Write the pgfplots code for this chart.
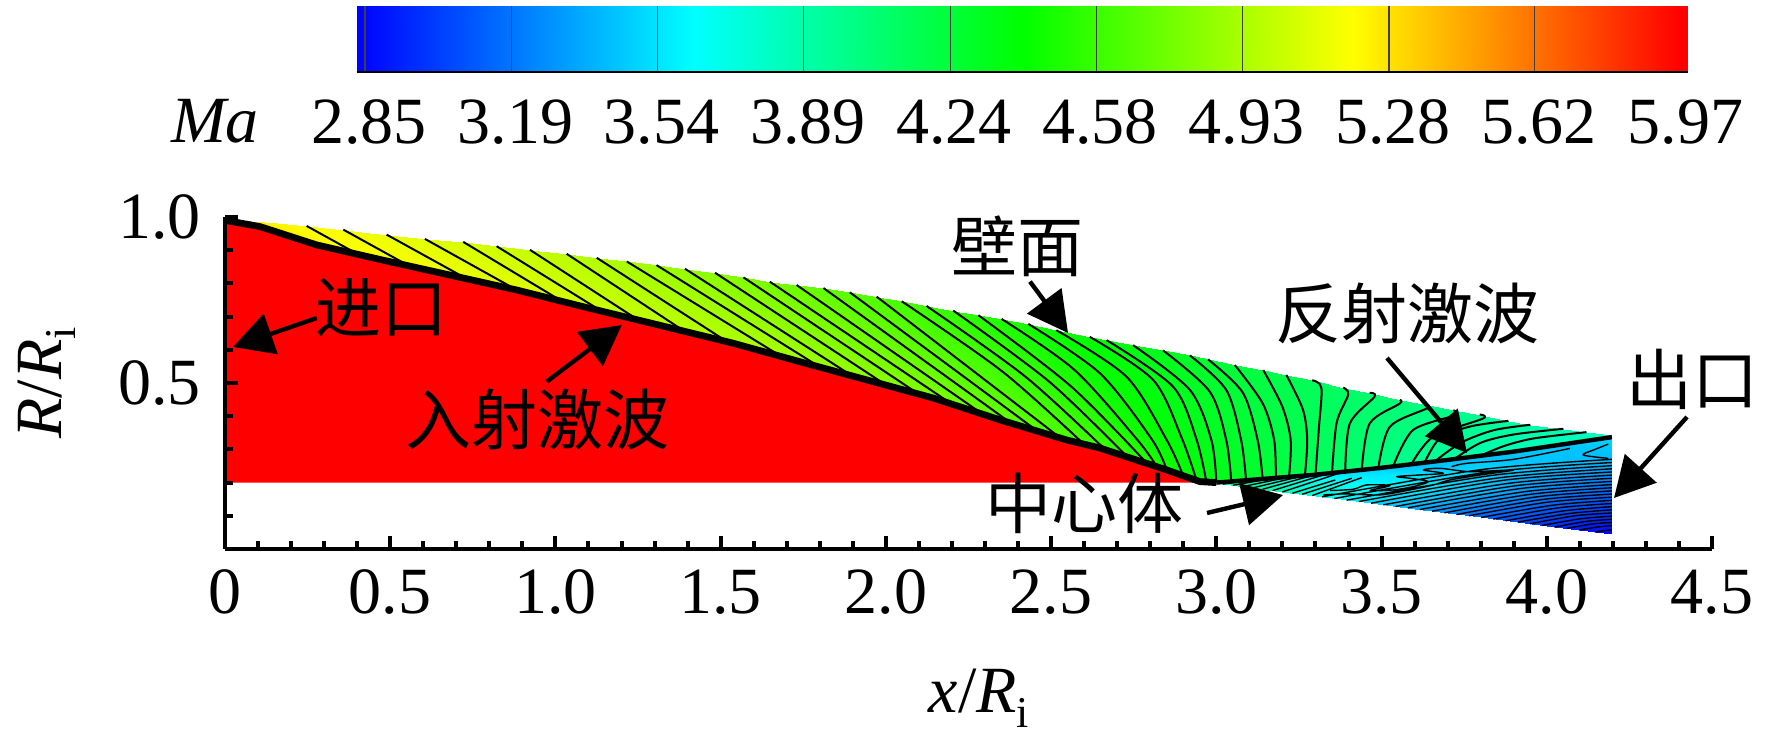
\documentclass[border=0pt]{standalone}
\usepackage{fontspec}
\usepackage{pgfplots}
\pgfplotsset{compat=1.18}
\usetikzlibrary{arrows.meta}
\setmainfont{Liberation Serif}
\newfontfamily\cjk{Noto Sans CJK SC}
\newcommand{\lab}{\fontsize{33}{36}\selectfont}
\pgfplotsset{
  colormap={tec}{rgb255(0)=(0,0,255) rgb255(1)=(0,255,255) rgb255(2)=(0,255,0) rgb255(3)=(255,255,0) rgb255(4)=(255,0,0)},
}
\tikzset{ann/.style={line width=2.2pt,-{Triangle[length=20pt,width=21pt]}}}
\begin{document}
\begin{tikzpicture}
\path[use as bounding box] (0,0) rectangle (886pt,374.5pt);

% colour legend
\begin{axis}[
  at={(178.3pt,338.5pt)}, anchor=south west, scale only axis,
  width=665.5pt, height=33pt,
  xmin=2.83, xmax=5.985, ymin=0, ymax=1,
  axis x line=bottom, axis y line=none,
  axis line style={-, line width=.6pt},
  xtick={2.85,3.197,3.543,3.89,4.237,4.583,4.93,5.277,5.623,5.97},
  xticklabels={2.85,3.19,3.54,3.89,4.24,4.58,4.93,5.28,5.62,5.97},
  tick align=inside, major tick length=33pt,
  tick style={black!75, line width=.6pt},
  xticklabel style={font=\lab, yshift=-10.5pt, xshift=2pt},
  point meta min=2.85, point meta max=5.97,
  colormap name=tec, axis on top,
]
\addplot[surf, shader=interp, mesh/rows=2, point meta=explicit] table[meta=c] {
x y c
2.83 0 2.85
3.63 0 3.63
4.41 0 4.41
5.19 0 5.19
5.97 0 5.97
5.985 0 5.97
2.83 1 2.85
3.63 1 3.63
4.41 1 4.41
5.19 1 5.19
5.97 1 5.97
5.985 1 5.97
};
\end{axis}

% main field
\begin{axis}[
  at={(112.5pt,100pt)}, anchor=south west, scale only axis,
  width=743.5pt, height=166pt,
  xmin=0, xmax=4.5, ymin=0, ymax=1,
  axis lines=left, axis line style={-, line width=2.2pt},
  xtick={0,0.5,...,4.5},
  xticklabels={0,0.5,1.0,1.5,2.0,2.5,3.0,3.5,4.0,4.5},
  ytick={0,0.5,1},
  yticklabels={,0.5,1.0},
  minor tick num=4,
  tick align=inside,
  major tick length=6.5pt, minor tick length=4pt,
  tick style={black, line width=2pt},
  minor tick style={line width=2pt},
  ticklabel style={font=\lab},
  xticklabel style={yshift=-7pt},
  yticklabel style={xshift=-8.5pt},
  xlabel={\lab\textit{x}/\textit{R}\raisebox{-.22em}{\fontsize{22}{24}\selectfont i}},
  ylabel={\lab\textit{R}/\textit{R}\raisebox{-.22em}{\fontsize{22}{24}\selectfont i}},
  xlabel style={at={(axis description cs:0.507,-0.449)}, anchor=center},
  ylabel style={at={(axis description cs:-0.12,0.5)}, anchor=center, rotate=0},
  point meta min=2.85, point meta max=5.97,
  colormap name=tec, axis on top,
  unbounded coords=jump,
]
% flow behind the incident shock: two rows, wall then shock
\addplot[surf, shader=interp, mesh/rows=2, point meta=explicit] table[meta=c] {
x y c
0 0.995 5.28
0.156 0.981 5.22
0.247 0.973 5.19
0.358 0.962 5.16
0.489 0.947 5.13
0.605 0.934 5.10
0.721 0.925 5.07
0.822 0.912 5.04
0.923 0.901 5.01
1.034 0.889 4.98
1.125 0.877 4.95
1.216 0.866 4.92
1.306 0.855 4.89
1.392 0.844 4.86
1.483 0.832 4.83
1.569 0.818 4.80
1.649 0.805 4.77
1.73 0.795 4.74
1.811 0.786 4.71
1.891 0.773 4.68
1.972 0.76 4.65
2.048 0.746 4.62
2.123 0.732 4.59
2.204 0.718 4.56
2.28 0.704 4.53
2.35 0.693 4.50
2.431 0.678 4.47
2.516 0.659 4.44
2.617 0.639 4.41
2.668 0.629 4.38
2.748 0.614 4.35
2.839 0.598 4.32
2.92 0.583 4.29
2.975 0.571 4.26
3.056 0.554 4.23
3.142 0.539 4.20
3.212 0.524 4.17
3.29 0.508 4.14
3.384 0.486 4.11
3.464 0.47 4.08
3.555 0.449 4.05
3.64 0.433 4.02
3.717 0.418 3.99
3.797 0.405 3.96
3.884 0.386 3.93
3.95 0.374 3.90
4.05 0.362 3.87
4.12 0.352 3.84
4.197 0.343 3.82
0 0.995 5.28
0.277 0.916 5.22
0.40 0.889 5.19
0.558 0.852 5.16
0.733 0.813 5.13
0.883 0.78 5.10
1.02 0.746 5.07
1.14 0.716 5.04
1.25 0.69 5.01
1.39 0.656 4.98
1.52 0.624 4.95
1.68 0.582 4.92
1.80 0.548 4.89
1.90 0.52 4.86
2.0 0.494 4.83
2.10 0.466 4.80
2.20 0.436 4.77
2.29 0.408 4.74
2.38 0.378 4.71
2.46 0.354 4.68
2.53 0.333 4.65
2.60 0.315 4.62
2.665 0.298 4.59
2.73 0.278 4.56
2.79 0.258 4.53
2.82 0.248 4.50
2.85 0.238 4.47
2.90 0.22 4.44
2.94 0.207 4.41
2.97 0.201 4.38
3.0 0.202 4.35
3.045 0.204 4.32
3.09 0.207 4.29
3.14 0.211 4.26
3.18 0.214 4.23
3.22 0.217 4.20
3.268 0.221 4.17
3.30 0.224 4.14
3.35 0.228 4.11
3.39 0.232 4.08
3.44 0.238 4.05
3.49 0.243 4.02
3.535 0.249 3.99
3.59 0.255 3.96
3.63 0.26 3.93
3.66 0.263 3.90
3.72 0.271 3.87
3.80 0.281 3.84
4.197 0.337 3.82
};
% flow behind the reflected shock
\addplot[surf, shader=interp, mesh/rows=7, point meta=explicit] table[meta=c] {
x y c
3.0 0.198 3.95
3.0 0.199 3.95
3.0 0.199 3.95
3.0 0.2 3.95
3.0 0.2 3.95
3.2 0.172 3.88
3.2 0.183 3.82
3.2 0.194 3.78
3.2 0.205 3.76
3.2 0.216 3.72
3.4 0.147 3.58
3.4 0.169 3.66
3.4 0.191 3.66
3.4 0.213 3.58
3.4 0.235 3.52
3.6 0.121 3.37
3.6 0.155 3.50
3.6 0.188 3.60
3.6 0.222 3.56
3.6 0.255 3.42
3.8 0.095 3.15
3.8 0.141 3.30
3.8 0.188 3.45
3.8 0.234 3.52
3.8 0.28 3.45
4.0 0.069 3.0
4.0 0.129 3.15
4.0 0.19 3.30
4.0 0.25 3.45
4.0 0.31 3.46
4.197 0.044 2.85
4.197 0.117 3.03
4.197 0.19 3.20
4.197 0.264 3.42
4.197 0.337 3.50
};
% free stream ahead of the shock
\addplot[fill=red, draw=none] coordinates {
(0,0.2) (0,0.99) (0.106,0.971) (0.277,0.916) (0.478,0.87) (0.681,0.825) (0.883,0.78)
(1.083,0.73) (1.286,0.681) (1.537,0.62) (1.74,0.564) (1.943,0.509) (2.142,0.455)
(2.345,0.389) (2.548,0.328) (2.648,0.304) (2.85,0.238) (2.95,0.203) (3.0,0.2)
} -- cycle;
% contour lines above the shocks
\addplot[black, line width=1pt, line join=round, smooth, tension=0.5] table {
x y
0.247 0.973
0.40 0.889
nan nan
0.358 0.962
0.558 0.852
nan nan
0.489 0.947
0.733 0.813
nan nan
0.605 0.934
0.883 0.78
nan nan
0.721 0.925
1.02 0.746
nan nan
0.822 0.912
1.14 0.716
nan nan
0.923 0.901
1.25 0.69
nan nan
1.034 0.889
1.39 0.656
nan nan
1.125 0.877
1.52 0.624
nan nan
1.216 0.866
1.68 0.582
nan nan
1.306 0.855
1.80 0.548
nan nan
1.392 0.844
1.90 0.52
nan nan
1.483 0.832
2.0 0.494
nan nan
1.569 0.818
2.10 0.466
nan nan
1.649 0.805
2.20 0.436
nan nan
1.73 0.795
2.29 0.408
nan nan
1.811 0.786
2.38 0.378
nan nan
1.891 0.773
2.46 0.354
nan nan
1.972 0.76
2.53 0.333
nan nan
2.048 0.746
2.352 0.535
2.60 0.315
nan nan
2.123 0.732
2.421 0.52
2.665 0.298
nan nan
2.204 0.718
2.493 0.505
2.73 0.278
nan nan
2.28 0.704
2.56 0.49
2.79 0.258
nan nan
2.35 0.693
2.57 0.54
2.76 0.33
2.82 0.248
nan nan
2.431 0.678
2.648 0.529
2.805 0.33
2.85 0.238
nan nan
2.516 0.659
2.728 0.519
2.85 0.328
2.90 0.22
nan nan
2.617 0.639
2.809 0.509
2.895 0.335
2.94 0.207
nan nan
2.668 0.629
2.869 0.489
2.94 0.33
2.97 0.201
nan nan
2.748 0.614
2.92 0.479
2.985 0.328
3.0 0.202
nan nan
2.839 0.598
2.98 0.474
3.03 0.328
3.045 0.204
nan nan
2.92 0.583
3.03 0.479
3.075 0.328
3.09 0.207
nan nan
2.975 0.571
3.08 0.471
3.125 0.328
3.14 0.211
nan nan
3.056 0.554
3.14 0.439
3.175 0.328
3.18 0.214
nan nan
3.142 0.539
3.2 0.428
3.225 0.328
3.22 0.217
nan nan
3.212 0.524
3.262 0.42
3.275 0.328
3.268 0.221
nan nan
3.29 0.508
3.318 0.485
3.31 0.36
3.30 0.224
nan nan
3.384 0.486
3.399 0.465
3.364 0.38
3.35 0.228
nan nan
3.464 0.47
3.479 0.459
3.404 0.378
3.39 0.232
nan nan
3.555 0.449
3.555 0.438
3.464 0.378
3.44 0.238
nan nan
3.64 0.433
3.636 0.423
3.525 0.368
3.49 0.243
nan nan
3.717 0.418
3.722 0.403
3.595 0.358
3.535 0.249
nan nan
3.797 0.405
3.807 0.393
3.656 0.338
3.59 0.255
nan nan
3.884 0.386
3.768 0.369
3.676 0.333
3.63 0.26
nan nan
3.95 0.374
3.84 0.358
3.74 0.32
3.66 0.263
nan nan
4.05 0.362
3.90 0.345
3.80 0.32
3.72 0.271
nan nan
4.12 0.352
3.96 0.333
3.87 0.31
3.80 0.281
};
% contour lines of the wedge behind the reflected shock
\addplot[black, line width=.7pt, line join=round, smooth, tension=0.5] table {
x y
3.02 0.196
3.12 0.208
nan nan
3.05 0.192
3.17 0.213
nan nan
3.08 0.188
3.22 0.217
nan nan
3.11 0.184
3.26 0.22
nan nan
3.14 0.18
3.3 0.224
nan nan
3.17 0.176
3.34 0.228
nan nan
3.2 0.172
3.38 0.231
nan nan
3.23 0.168
3.36 0.208
nan nan
3.26 0.165
3.41 0.213
nan nan
3.29 0.161
3.44 0.215
nan nan
3.32 0.157
3.80 0.239
4.197 0.27
nan nan
3.357 0.152
3.819 0.231
4.197 0.2605
nan nan
3.394 0.147
3.836 0.222
4.197 0.251
nan nan
3.431 0.143
3.852 0.214
4.197 0.2415
nan nan
3.468 0.138
3.869 0.207
4.197 0.232
nan nan
3.505 0.133
3.886 0.198
4.197 0.2225
nan nan
3.542 0.128
3.902 0.19
4.197 0.213
nan nan
3.579 0.124
3.919 0.182
4.197 0.2035
nan nan
3.616 0.119
3.936 0.173
4.197 0.194
nan nan
3.653 0.114
3.952 0.165
4.197 0.1845
nan nan
3.69 0.109
3.969 0.157
4.197 0.175
nan nan
3.727 0.104
3.986 0.149
4.197 0.1655
nan nan
3.764 0.1
4.002 0.141
4.197 0.156
nan nan
3.801 0.095
4.019 0.132
4.197 0.1465
nan nan
3.838 0.09
4.035 0.124
4.197 0.137
nan nan
3.875 0.085
4.052 0.115
4.197 0.1275
nan nan
3.912 0.081
4.069 0.107
4.197 0.118
nan nan
3.949 0.076
4.085 0.1
4.197 0.1085
nan nan
3.986 0.071
4.102 0.091
4.197 0.099
nan nan
4.023 0.066
4.119 0.083
4.197 0.0895
nan nan
4.06 0.062
4.135 0.075
4.197 0.08
nan nan
4.097 0.057
4.152 0.066
4.197 0.0705
nan nan
4.145 0.051
4.172 0.055
4.197 0.058
nan nan
3.344 0.176
3.414 0.18
3.455 0.193
3.525 0.191
3.465 0.176
3.536 0.178
3.596 0.188
3.641 0.203
3.586 0.213
3.546 0.218
3.616 0.223
3.687 0.228
3.626 0.238
3.677 0.243
3.767 0.233
3.899 0.238
3.798 0.223
3.707 0.208
3.657 0.193
3.586 0.178
3.495 0.163
3.394 0.166
3.324 0.163
nan nan
3.712 0.248
3.757 0.258
3.899 0.27
4.07 0.303
nan nan
4.186 0.316
4.141 0.298
4.11 0.283
4.186 0.273
};
% incident and reflected shocks
\addplot[black, line width=3.4pt, line join=round] coordinates {
(0,0.99) (0.106,0.971) (0.277,0.916) (0.478,0.87) (0.681,0.825) (0.883,0.78)
(1.083,0.73) (1.286,0.681) (1.537,0.62) (1.74,0.564) (1.943,0.509) (2.142,0.455)
(2.345,0.389) (2.548,0.328) (2.648,0.304) (2.85,0.238) (2.95,0.203) (3.0,0.2)
};
\addplot[black, line width=2.2pt, line join=round] coordinates {
(3.0,0.2) (3.292,0.223) (3.495,0.244) (3.697,0.268) (3.897,0.293) (4.197,0.337)
};
\end{axis}

\node[font=\lab\itshape] at (107.5pt,314pt) {Ma};

% annotations
\node[font=\lab\cjk] at (190.5pt,220.5pt) {进口};
\draw[ann] (158.4pt,215.5pt) -- (116.5pt,201pt);
\node[font=\lab\cjk] at (268.5pt,165pt) {入射激波};
\draw[ann] (273.4pt,183.7pt) -- (310.9pt,212pt);
\node[font=\lab\cjk] at (508.5pt,251.5pt) {壁面};
\draw[ann] (515pt,233.7pt) -- (534pt,208pt);
\node[font=\lab\cjk] at (703.5pt,218pt) {反射激波};
\draw[ann] (693.5pt,195.5pt) -- (733.5pt,148pt);
\node[font=\lab\cjk] at (846pt,185pt) {出口};
\draw[ann] (843.5pt,166pt) -- (807pt,125.5pt);
\node[font=\lab\cjk] at (542pt,123pt) {中心体};
\draw[ann] (603.5pt,118pt) -- (641.5pt,127pt);
\end{tikzpicture}
\end{document}
